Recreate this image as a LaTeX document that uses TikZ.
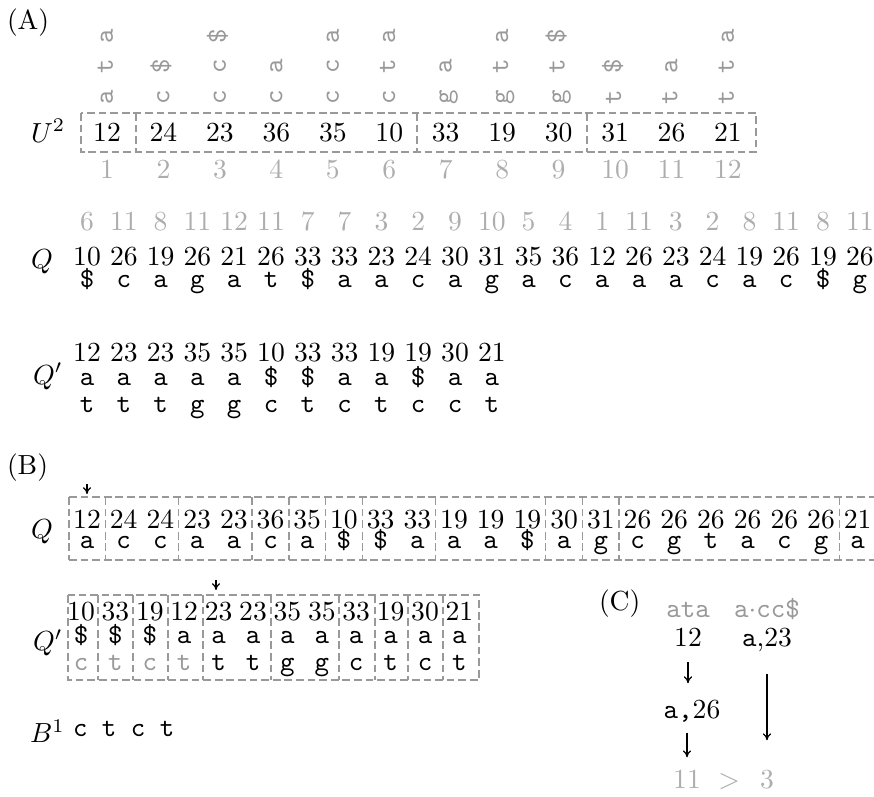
\documentclass[tikz,border=0pt]{standalone}
\usetikzlibrary{arrows.meta}
\definecolor{ltrgray}{gray}{0.6}
\definecolor{idxgray}{gray}{0.68}
\definecolor{boxgray}{gray}{0.6}
\begin{document}
\begin{tikzpicture}[x=0.3623pt,y=-0.3623pt,
  numsty/.style={inner sep=0pt,outer sep=0pt,text height=6.44pt,text depth=0pt},
  letsty/.style={inner sep=0pt,outer sep=0pt,font=\ttfamily,text height=4.31pt,text depth=0pt},
  rotsty/.style={letsty,rotate=90,text=ltrgray},
  labsty/.style={inner sep=0pt,outer sep=0pt,anchor=base west},
  boxline/.style={draw=boxgray,line width=0.5pt,dash pattern=on 2.8pt off 1.4pt},
  arr/.style={-{To[length=2.5pt,width=3pt]},line width=0.45pt}]
\useasboundingbox (0,0) rectangle (874,796);

% ---------------- (A)
\node[labsty] (labA) at (7,29) {(A)};
\foreach \c/\r/\ch in {1/1/a,1/2/t,1/3/a, 2/1/c,2/2/\$, 3/1/c,3/2/c,3/3/\$, 4/1/c,4/2/a, 5/1/c,5/2/c,5/3/a, 6/1/c,6/2/t,6/3/a, 7/1/g,7/2/a, 8/1/g,8/2/t,8/3/a, 9/1/g,9/2/t,9/3/\$, 10/1/t,10/2/\$, 11/1/t,11/2/a, 12/1/t,12/2/t,12/3/a}{
  \pgfmathsetmacro\xx{107+56.45*(\c-1)}
  \pgfmathsetmacro\yy{97-30.5*(\r-1)}
  \node[rotsty] (r\c-\r) at (\xx,\yy) {\ch};
}
\node[labsty] (U) at (31,142) {$U^2$};
\foreach \v [count=\i] in {12,24,23,36,35,10,33,19,30,31,26,21}{
  \pgfmathsetmacro\xx{107+56.45*(\i-1)}
  \node[numsty] (u\i) at (\xx,133) {\v};
  \node[numsty,text=idxgray] (ui\i) at (\xx,170) {\i};
}
\draw[boxline] (81,113) rectangle (756,152);
\foreach \s in {136,417,587} \draw[boxline] (\s,113) -- (\s,152);

\node[labsty] (QA) at (31,268) {$Q$};
\foreach \g/\v/\ch [count=\i] in {6/10/\$,11/26/c,8/19/a,11/26/g,12/21/a,11/26/t,7/33/\$,7/33/a,3/23/a,2/24/c,9/30/a,10/31/g,5/35/a,4/36/c,1/12/a,11/26/a,3/23/a,2/24/c,8/19/a,11/26/c,8/19/\$,11/26/g}{
  \pgfmathsetmacro\xx{87+36.8*(\i-1)}
  \node[numsty,text=idxgray] (qg\i) at (\xx,222) {\g};
  \node[numsty] (qn\i) at (\xx,257) {\v};
  \node[letsty] (ql\i) at (\xx,282) {\ch};
}

\node[labsty] (QpA) at (33,384) {$Q'$};
\foreach \v/\a/\b [count=\i] in {12/a/t,23/a/t,23/a/t,35/a/g,35/a/g,10/\$/c,33/\$/t,33/a/c,19/a/t,19/\$/c,30/a/c,21/a/t}{
  \pgfmathsetmacro\xx{87+36.8*(\i-1)}
  \node[numsty] (pn\i) at (\xx,353) {\v};
  \node[letsty] (pa\i) at (\xx,380) {\a};
  \node[letsty] (pb\i) at (\xx,407) {\b};
}

% ---------------- (B)
\node[labsty] (labB) at (7,474) {(B)};
\node[labsty] (QB) at (31,538) {$Q$};
\coordinate (pta1) at (87,484); \coordinate (pta2) at (87,494);
\draw[arr] (pta1) -- (pta2);
\foreach \v/\ch [count=\i] in {12/a,24/c,24/c,23/a,23/a,36/c,35/a,10/\$,33/\$,33/a,19/a,19/a,19/\$,30/a,31/g,26/c,26/g,26/t,26/a,26/c,26/g,21/a}{
  \pgfmathsetmacro\xx{87+36.7*(\i-1)}
  \node[numsty] (bn\i) at (\xx,520) {\v};
  \node[letsty] (bl\i) at (\xx,543) {\ch};
}
\draw[boxline] (69,497) -- (876,497);
\draw[boxline] (69,560) -- (876,560);
\draw[boxline] (69,497) -- (69,560);
\foreach \k in {1,3,5,6,7,8,10,13,14,15,21}{
  \pgfmathsetmacro\xx{87+36.7*(\k-1)+18.35}
  \draw[boxline] (\xx,497) -- (\xx,560);
}

\node[labsty] (QpB) at (33,650) {$Q'$};
\coordinate (ptb1) at (216,580); \coordinate (ptb2) at (216,590);
\draw[arr] (ptb1) -- (ptb2);
\foreach \v/\a/\b/\cl [count=\i] in {10/\$/c/ltrgray,33/\$/t/ltrgray,19/\$/c/ltrgray,12/a/t/ltrgray,23/a/t/black,23/a/t/black,35/a/g/black,35/a/g/black,33/a/c/black,19/a/t/black,30/a/c/black,21/a/t/black}{
  \pgfmathsetmacro\xx{81+34.4*(\i-1)}
  \node[numsty] (cn\i) at (\xx,612) {\v};
  \node[letsty] (ca\i) at (\xx,638) {\a};
  \node[letsty,text=\cl] (cb\i) at (\xx,665) {\b};
}
\draw[boxline] (68,595) rectangle (479,680);
\foreach \s in {98,133,168,203,271,339,375,408,443} \draw[boxline] (\s,595) -- (\s,680);

\node[labsty] (B1) at (30,742) {$B^1$};
\node[letsty,anchor=west] (b1s) at (73,731) {c t c t};

% ---------------- (C)
\node[labsty] (labC) at (599,610) {(C)};
\node[letsty,text=ltrgray] (cata) at (688,612) {ata};
\node[letsty,text=ltrgray] (cacc) at (767,612) {a$\cdot$cc\$};
\node[numsty] (c12) at (688,638) {12};
\node[numsty] (ca23) at (767,638) {\texttt{a},23};
\node[numsty] (ca26) at (692,710) {\texttt{a,}26};
\node[numsty,text=idxgray] (c11) at (687,780) {11};
\node[numsty,text=idxgray] (cgt) at (729,780) {$>$};
\node[numsty,text=idxgray] (c3) at (767,780) {3};
\draw[arr,shorten <=5.4pt,shorten >=6.5pt] (c12.south) -- (c12.south |- ca26.north);
\draw[arr,shorten <=5pt,shorten >=5pt] (c11.north |- ca26.south) -- (c11.north);
\draw[arr,shorten <=9.8pt,shorten >=11.2pt] (ca23.south) -- (c3.north);
\end{tikzpicture}
\end{document}
